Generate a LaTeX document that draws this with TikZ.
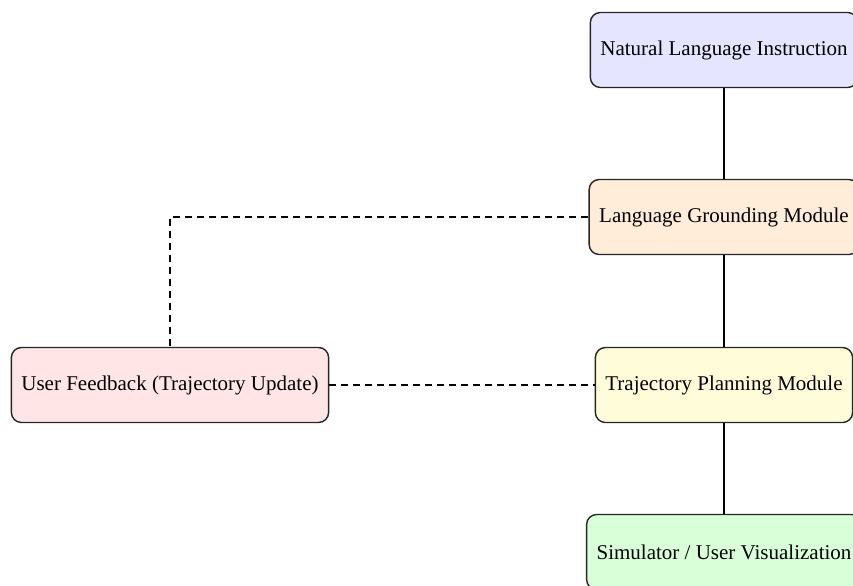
\documentclass[tikz,border=0pt]{standalone}
\usepackage{fontspec}
\setmainfont{Liberation Serif}
\begin{document}
\begin{tikzpicture}[x=0.5pt,y=-0.5pt,
  box/.style={draw=black!85, line width=0.7pt, rounded corners=5pt,
    minimum height=37.5pt, inner xsep=5pt, font=\fontsize{10.5}{12}\selectfont},
  flow/.style={line width=0.9pt},
  feedback/.style={line width=0.9pt, dash pattern=on 3.5pt off 2.5pt}]
\useasboundingbox (0,0) rectangle (853,585);
\clip (0,0) rectangle (853,585);
\node[box, fill=blue!10]   (nli) at (724,50)  {Natural Language Instruction};
\node[box, fill=orange!15] (lgm) at (724,217) {Language Grounding Module};
\node[box, fill=yellow!15] (tpm) at (724,385) {Trajectory Planning Module};
\node[box, fill=green!15]  (sim) at (724,552) {Simulator / User Visualization};
\node[box, fill=red!10]    (uf)  at (170,385) {User Feedback (Trajectory Update)};
\draw[flow] (nli) -- (lgm);
\draw[flow] (lgm) -- (tpm);
\draw[flow] (tpm) -- (sim);
\draw[feedback] (lgm.west) -| (uf.north);
\draw[feedback] (uf.east) -- (tpm.west);
\end{tikzpicture}
\end{document}
